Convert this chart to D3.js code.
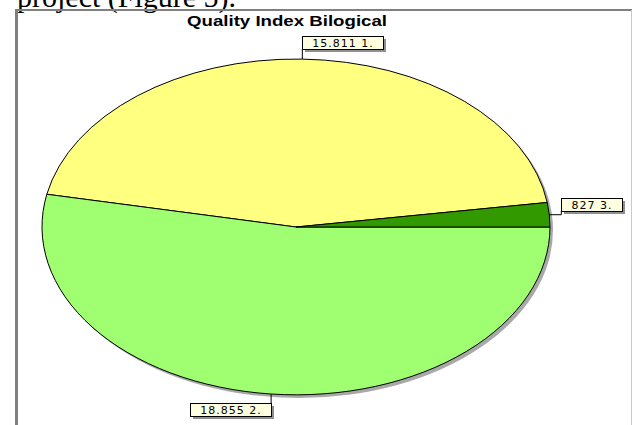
<!DOCTYPE html>
<html>
<head>
<meta charset="utf-8">
<script src="https://cdn.jsdelivr.net/npm/d3@7"></script>
<style>
	body { margin: 0; background: #fff; }
	svg { display: block; }
</style>
</head>
<body>
<script>
// pie chart: Quality Index Bilogical

var title = 'Quality Index Bilogical';
var categories = ['1.', '2.', '3.'];
var values = [15811, 18855, 827];
var valueLabels = ['15.811', '18.855', '827'];
var colors = ['#ffff80', '#a0ff70', '#339900'];

var dim = { width: 632, height: 425, cx: 296, cy: 227, rx: 254, ry: 168 };

var svg = d3.select('body').append('svg')
	.attr('width', dim.width)
	.attr('height', dim.height);

// cropped line of the page above the figure
svg.append('text')
	.attr('x', 17)
	.attr('y', 7)
	.style('font-family', '"Liberation Serif", "Times New Roman", serif')
	.style('font-size', '30px')
	.text('project (Figure 5).');

// frame
svg.append('line').attr('x1', 15).attr('y1', 10).attr('x2', 632).attr('y2', 10)
	.attr('stroke', '#808080').attr('stroke-width', 2);
svg.append('line').attr('x1', 16.5).attr('y1', 9).attr('x2', 16.5).attr('y2', 425)
	.attr('stroke', '#808080').attr('stroke-width', 3);
svg.append('line').attr('x1', 631.5).attr('y1', 10).attr('x2', 631.5).attr('y2', 425)
	.attr('stroke', '#c8c8c8').attr('stroke-width', 1);

svg.append('text')
	.attr('x', 287)
	.attr('y', 26)
	.attr('text-anchor', 'middle')
	.attr('textLength', 200)
	.attr('lengthAdjust', 'spacingAndGlyphs')
	.style('font-family', '"Liberation Sans", Arial, sans-serif')
	.style('font-weight', 'bold')
	.style('font-size', '15px')
	.text(title);

// pie, counter-clockwise, last slice ends at 3 o'clock
var total = d3.sum(values);
var a0 = Math.PI / 2 - 2 * Math.PI * values[values.length - 1] / total;

var pie = d3.pie()
	.sort(null)
	.value(function(d){ return d; })
	.startAngle(a0)
	.endAngle(a0 - 2 * Math.PI);

var arcs = pie(values);
var arc = d3.arc().innerRadius(0).outerRadius(1);

// shadow
svg.append('ellipse')
	.attr('cx', dim.cx + 3)
	.attr('cy', dim.cy + 3)
	.attr('rx', dim.rx)
	.attr('ry', dim.ry)
	.attr('fill', '#a8a8a8');

var pieLayer = svg.append('g')
	.attr('transform', 'translate(' + dim.cx + ',' + dim.cy + ') scale(' + dim.rx + ',' + dim.ry + ')');

pieLayer.selectAll('path')
	.data(arcs)
	.enter().append('path')
	.attr('d', arc)
	.attr('fill', function(d, i){ return colors[i]; })
	.attr('stroke', '#000')
	.attr('stroke-width', 1)
	.attr('vector-effect', 'non-scaling-stroke');

// labels
var labelLayer = svg.append('g')
	.style('font-family', '"DejaVu Sans", Verdana, sans-serif')
	.style('font-size', '11px')
	.style('letter-spacing', '1px');

arcs.forEach(function(d, i){
	var mid = (d.startAngle + d.endAngle) / 2;
	var ax = dim.cx + dim.rx * Math.sin(mid);
	var ay = dim.cy - dim.ry * Math.cos(mid);

	var g = labelLayer.append('g');
	var txt = g.append('text')
		.attr('text-anchor', 'middle')
		.text(valueLabels[i] + ' ' + categories[i]);
	var w = Math.round(txt.node().getComputedTextLength() + 20);
	var h = 13;

	var bx, by, pts;
	if (Math.abs(Math.sin(mid)) > 0.9) {
		bx = ax + 12; by = ay - 4 - h;
		pts = [[ax, ay], [ax + 12, ay], [ax + 12, ay - 4]];
	} else if (Math.cos(mid) > 0) {
		bx = ax; by = ay - 10 - h;
		pts = [[ax, ay], [ax, ay - 10]];
	} else {
		bx = ax - w; by = ay + 9;
		pts = [[ax, ay], [ax, ay + 9]];
	}
	bx = Math.round(bx); by = Math.round(by);

	g.insert('polyline', 'text')
		.attr('points', pts.map(function(p){ return p.join(','); }).join(' '))
		.attr('fill', 'none')
		.attr('stroke', '#000');
	g.insert('rect', 'text')
		.attr('x', bx + 3).attr('y', by + 3)
		.attr('width', w).attr('height', h)
		.attr('fill', '#909090');
	g.insert('rect', 'text')
		.attr('x', bx + 0.5).attr('y', by + 0.5)
		.attr('width', w).attr('height', h)
		.attr('fill', '#ffffe0')
		.attr('stroke', '#000');
	txt.attr('x', bx + w / 2 + 0.5).attr('y', by + 11);
});
</script>
</body>
</html>
